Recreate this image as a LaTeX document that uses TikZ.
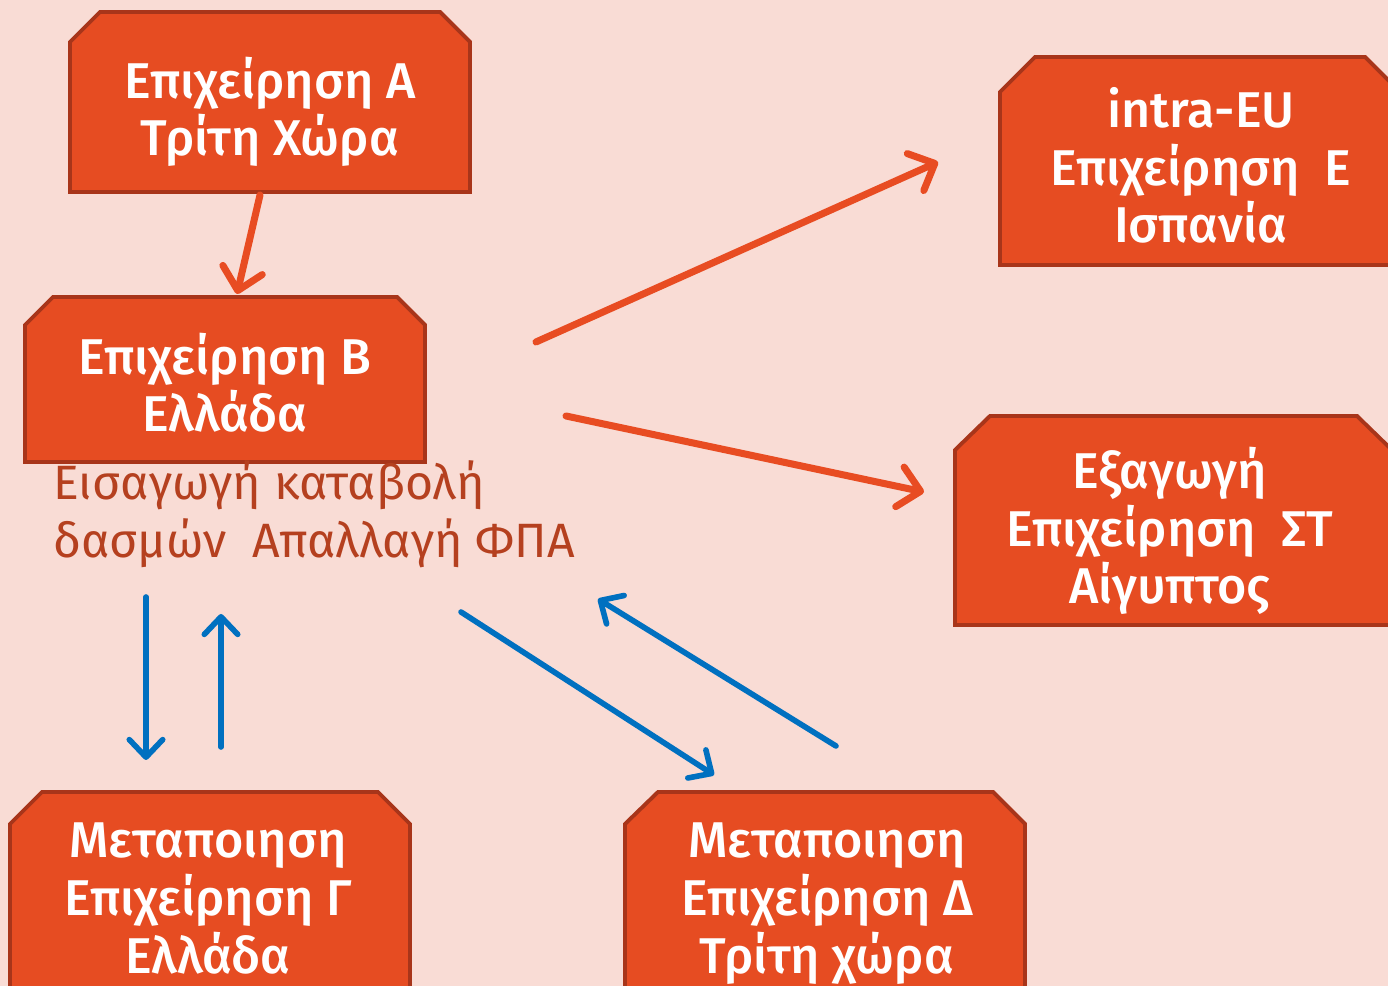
\documentclass[tikz,border=0pt]{standalone}
\usepackage{fontspec}
\setmainfont{Fira Sans}
\newfontfamily\boxfont{Fira Sans}[UprightFont={* Medium}]
\usetikzlibrary{arrows.meta,backgrounds}
\definecolor{bgc}{HTML}{F9DCD5}
\definecolor{boxfill}{HTML}{E64C22}
\definecolor{boxline}{HTML}{A8351A}
\definecolor{arrorange}{HTML}{E84C22}
\definecolor{arrblue}{HTML}{0070C0}
\definecolor{labelc}{HTML}{B5401F}
\tikzset{
  chbox/.style={fill=boxfill,draw=boxline,line width=1.1pt,line join=miter},
  boxtext/.style={text=white,font=\boxfont\fontsize{14.3pt}{16.4pt}\selectfont,align=center,inner sep=0pt,anchor=base},
  labeltext/.style={text=labelc,font=\fontsize{13.7pt}{16.5pt}\selectfont,align=left,inner sep=0pt,anchor=base west},
  orangearrow/.style={draw=arrorange,line width=2pt,line cap=round,-{Straight Barb[length=6pt,width=11.5pt,round]}},
  bluearrow/.style={draw=arrblue,line width=1.6pt,line cap=round,-{Straight Barb[length=5pt,width=9.5pt,round]}}
}
\begin{document}
\begin{tikzpicture}[x=0.01cm,y=-0.01cm]
\useasboundingbox (0,0) rectangle (1388,986);
\clip (0,0) rectangle (1388,986);
\fill[bgc] (0,0) rectangle (1388,986);
% boxes
\draw[chbox] (70,192) -- (70,42) -- (100,12) -- (440,12) -- (470,42) -- (470,192) -- cycle;
\draw[chbox] (25,462) -- (25,325) -- (53,297) -- (397,297) -- (425,325) -- (425,462) -- cycle;
\draw[chbox] (1000,265) -- (1000,92) -- (1035,57) -- (1365,57) -- (1400,92) -- (1400,265) -- cycle;
\draw[chbox] (955,625) -- (955,450) -- (990,416) -- (1357,416) -- (1392,450) -- (1392,625) -- cycle;
\draw[chbox] (10,1020) -- (10,824) -- (42,792) -- (378,792) -- (410,824) -- (410,1020) -- cycle;
\draw[chbox] (625,1020) -- (625,824) -- (658,792) -- (993,792) -- (1025,824) -- (1025,1020) -- cycle;
% texts (anchor = baseline of last line)
\node[boxtext] (A) at (270,156) {Επιχείρηση Α\\Τρίτη Χώρα};
\node[boxtext] (B) at (225,432) {Επιχείρηση Β\\Ελλάδα};
\node[boxtext] (E) at (1201,243) {intra-EU\\Επιχείρηση~~Ε\\Ισπανία};
\node[boxtext] (ST) at (1170,604) {Εξαγωγή\\Επιχείρηση~~ΣΤ\\Αίγυπτος};
\node[boxtext] (G) at (208,973) {Μεταποιηση\\Επιχείρηση Γ\\Ελλάδα};
\node[boxtext] (D) at (827,973) {Μεταποιηση\\Επιχείρηση Δ\\Τρίτη χώρα};
\node[labeltext] (L) at (53,558) {Εισαγωγή καταβολή\\δασμών~~Απαλλαγή ΦΠΑ};
% connector ends
\coordinate (a1) at (260,195);
\coordinate (b1) at (237,294);
\coordinate (b2) at (536,342);
\coordinate (e1) at (938,162);
\coordinate (b3) at (566,416);
\coordinate (s1) at (924,492);
\coordinate (l1) at (146,597);
\coordinate (g1) at (146,760);
\coordinate (g2) at (221,747);
\coordinate (l2) at (221,614);
\coordinate (l3) at (461,612);
\coordinate (d1) at (714,775);
\coordinate (d2) at (836,746);
\coordinate (l4) at (598,599);
% connectors
\draw[orangearrow] (a1) -- (b1);
\draw[orangearrow] (b2) -- (e1);
\draw[orangearrow] (b3) -- (s1);
\draw[bluearrow] (l1) -- (g1);
\draw[bluearrow] (g2) -- (l2);
\draw[bluearrow] (l3) -- (d1);
\draw[bluearrow] (d2) -- (l4);
\end{tikzpicture}
\end{document}
